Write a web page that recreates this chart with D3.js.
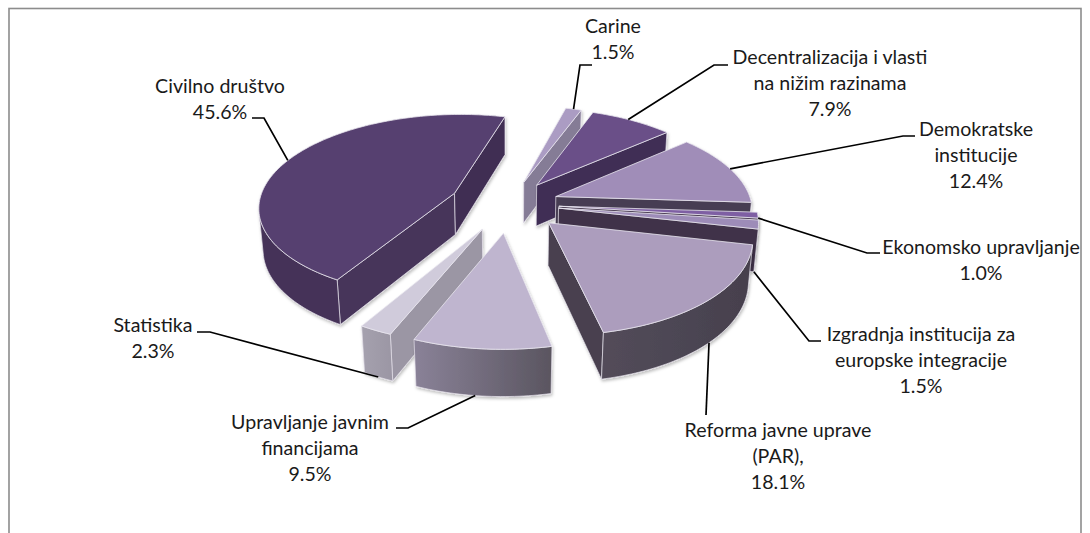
<!DOCTYPE html>
<html>
<head>
<meta charset="utf-8">
<script src="https://d3js.org/d3.v7.min.js"></script>
<style>
html, body { margin: 0; padding: 0; background: #fff; overflow: hidden; }
text { font-family: Lato, "Open Sans", sans-serif; font-size: 19.6px; fill: #1a1a1a; text-anchor: middle; }
</style>
</head>
<body>
<script>
// chart data, clockwise from the first slice
var categories = ["Carine", "Decentralizacija i vlasti na nižim razinama", "Demokratske institucije", "Ekonomsko upravljanje",
    "Izgradnja institucija za europske integracije", "Reforma javne uprave (PAR),", "Upravljanje javnim financijama", "Statistika", "Civilno društvo"];
var shares = [1.5, 7.9, 12.4, 1.0, 1.5, 18.1, 9.5, 2.3, 45.6];
var shareLabels = ["1.5%", "7.9%", "12.4%", "1.0%", "1.5%", "18.1%", "9.5%", "2.3%", "45.6%"];

// slice styling: top, start side, end side, wall gradient
var topColors = ["#ab9cc3", "#6a5088", "#a08db8", "#7e5fa3", "#9d8cb8", "#ac9dbd", "#bfb5cf", "#d0cbdb", "#57416f"];
var startSideColors = ["#857b96", "#3f2f55", "#473c52", "#3f3248", "#3f3248", "#48414f", "#8a8298", "#9b96a4", "#46365a"];
var endSideColors = ["#857b96", "#3f2f55", "#473c52", "#3f3248", "#3f3248", "#48414f", "#8a8298", "#a5a1ae", "#402e52"];
var wallFrom = ["#857b96", "#3f2f55", "#473c52", "#3f3248", "#3f3248", "#534c5a", "#8a8298", "#a5a1ae", "#453358"];
var wallTo = ["#857b96", "#3f2f55", "#473c52", "#3f3248", "#3f3248", "#46404d", "#5a5560", "#9b96a4", "#453358"];

// label layout: wrapped lines, centre x, first baseline, elbow, where the leader lands
var labelLines = [["Carine"], ["Decentralizacija i vlasti", "na nižim razinama"], ["Demokratske", "institucije"], ["Ekonomsko upravljanje"],
    ["Izgradnja institucija za", "europske integracije"], ["Reforma javne uprave", "(PAR),"], ["Upravljanje javnim", "financijama"], ["Statistika"], ["Civilno društvo"]];
var labelX = [613, 830, 976, 981, 921, 778, 310, 153, 220];
var labelY = [33, 64, 136, 254, 341, 437, 429, 332, 93];
var leaderStart = [[592, 65], [728, 65], [915, 136], [880, 253], [821, 341], [706, 415], [396, 428], [197, 332], [252, 118]];
var leaderElbow = [[580, 65], [714, 65], [903, 136], [867, 253], [809, 341], [706, 415], [408, 428], [210, 332], [264, 118]];
var leaderFrac = [0.5, 0.45, 0.5, 1, 1, 0.48, 0.55, 0.5, 0.5];
var leaderDepth = [0, 0, 0, 0, 1, 1, 1, 1, 0];

// pull-out of each slice
var explodeBy = [50, 50, 50, 50, 50, 55, 60, 58, 60];

var width = 1090, height = 533;
var centerX = 509, centerY = 204;
var radius = 196, thickness = 48;
var tilt = 28 * Math.PI / 180, camera = 1300;
var firstAngle = 15 * Math.PI / 180;

var svg = d3.select("body").append("svg").attr("width", width).attr("height", height);

svg.append("rect").attr("x", 9).attr("y", 8.5).attr("width", 1072).attr("height", 600)
    .attr("fill", "#fff").attr("stroke", "#8c8c8c").attr("stroke-width", 1.6);

var defs = svg.append("defs");
var shadow = defs.append("filter").attr("id", "soft").attr("x", "-10%").attr("y", "-10%").attr("width", "120%").attr("height", "125%");
shadow.append("feDropShadow").attr("dx", 1).attr("dy", 2).attr("stdDeviation", 1.6).attr("flood-color", "#000").attr("flood-opacity", 0.25);

var pie = d3.pie().sort(null).startAngle(firstAngle).endAngle(firstAngle + Math.PI * 2);
var slices = pie(shares);

// plane point -> screen, z is how far below the top face
function project(x, y, z) {
    var yc = y * Math.sin(tilt) + z * Math.cos(tilt);
    var zc = y * Math.cos(tilt) - z * Math.sin(tilt);
    var s = camera / (camera - zc);
    return [centerX + x * s, centerY + yc * s];
}

function rimPoint(d, a, z) {
    var mid = (d.startAngle + d.endAngle) / 2;
    var ox = Math.sin(mid) * explodeBy[d.index], oy = -Math.cos(mid) * explodeBy[d.index];
    return project(ox + Math.sin(a) * radius, oy - Math.cos(a) * radius, z);
}

function apexPoint(d, z) {
    var mid = (d.startAngle + d.endAngle) / 2;
    return project(Math.sin(mid) * explodeBy[d.index], -Math.cos(mid) * explodeBy[d.index], z);
}

function area(pts) {
    return d3.polygonArea(pts);
}

var line = d3.line().curve(d3.curveLinearClosed);

var order = slices.map(function (d, i) { return i; }).sort(function (a, b) {
    var ma = (slices[a].startAngle + slices[a].endAngle) / 2, mb = (slices[b].startAngle + slices[b].endAngle) / 2;
    return -Math.cos(ma) + Math.cos(mb);
});

order.forEach(function (i) {
    var d = slices[i];
    var g = svg.append("g").attr("filter", "url(#soft)");
    var steps = Math.max(4, Math.ceil((d.endAngle - d.startAngle) / 0.02));
    var angles = d3.range(steps + 1).map(function (k) { return d.startAngle + (d.endAngle - d.startAngle) * k / steps; });

    var topFace = [apexPoint(d, 0)].concat(angles.map(function (a) { return rimPoint(d, a, 0); }));
    var sign = area(topFace) > 0 ? 1 : -1;

    function drawQuad(p, q, pb, qb, fill) {
        var quad = [q, p, pb, qb];
        if (area(quad) * sign <= 0) return;
        g.append("path").attr("d", line(quad)).attr("fill", fill)
            .attr("stroke", "#e4e0ea").attr("stroke-width", 0.7).attr("stroke-linejoin", "round");
    }

    drawQuad(apexPoint(d, 0), rimPoint(d, d.startAngle, 0), apexPoint(d, thickness), rimPoint(d, d.startAngle, thickness), startSideColors[i]);
    drawQuad(rimPoint(d, d.endAngle, 0), apexPoint(d, 0), rimPoint(d, d.endAngle, thickness), apexPoint(d, thickness), endSideColors[i]);

    // outer wall, only the run of segments facing the viewer
    var visible = angles.filter(function (a, k) {
        if (k == angles.length - 1) return false;
        var b = angles[k + 1];
        return area([rimPoint(d, b, 0), rimPoint(d, a, 0), rimPoint(d, a, thickness), rimPoint(d, b, thickness)]) * sign > 0;
    });
    if (visible.length) {
        var step = (d.endAngle - d.startAngle) / steps;
        var run = visible.concat([visible[visible.length - 1] + step]);
        var wall = run.map(function (a) { return rimPoint(d, a, 0); })
            .concat(run.slice().reverse().map(function (a) { return rimPoint(d, a, thickness); }));
        var gradId = "wall" + i;
        var grad = defs.append("linearGradient").attr("id", gradId);
        grad.append("stop").attr("offset", "0%").attr("stop-color", wallFrom[i]);
        grad.append("stop").attr("offset", "100%").attr("stop-color", wallTo[i]);
        g.append("path").attr("d", line(wall)).attr("fill", "url(#" + gradId + ")")
            .attr("stroke", "#e4e0ea").attr("stroke-width", 0.7).attr("stroke-linejoin", "round");
    }

    g.append("path").attr("d", line(topFace)).attr("fill", topColors[i])
        .attr("stroke", "#e9e6ef").attr("stroke-width", 0.8).attr("stroke-linejoin", "round");
});

// leaders and labels
var leader = d3.line();
slices.forEach(function (d, i) {
    var a = d.startAngle + (d.endAngle - d.startAngle) * leaderFrac[i];
    var end = rimPoint(d, a, leaderDepth[i] * thickness);
    svg.append("path").attr("d", leader([leaderStart[i], leaderElbow[i], end]))
        .attr("fill", "none").attr("stroke", "#000").attr("stroke-width", 1.7);

    var lines = labelLines[i].concat([shareLabels[i]]);
    var text = svg.append("text").attr("y", labelY[i]);
    lines.forEach(function (t, k) {
        text.append("tspan").attr("x", labelX[i]).attr("dy", k ? 26 : 0).text(t);
    });
});
</script>
</body>
</html>
